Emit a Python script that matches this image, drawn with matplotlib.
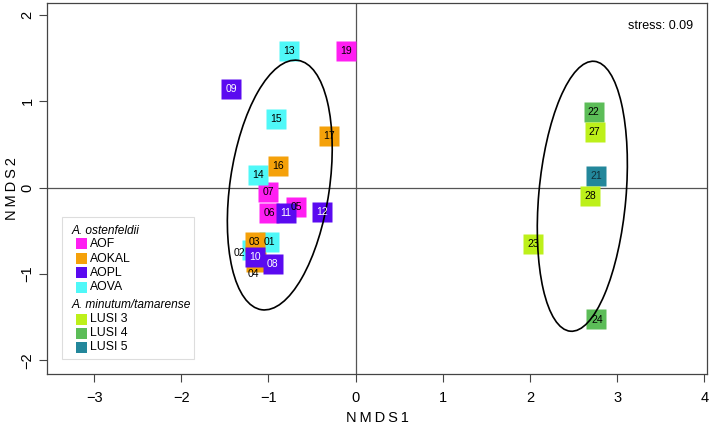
import matplotlib
matplotlib.use("Agg")
import matplotlib.pyplot as plt
from matplotlib.patches import Ellipse, Rectangle

plt.rcParams['font.family'] = ['Liberation Sans', 'DejaVu Sans']

# ---- data ----
sample_ids = ["01", "02", "03", "04", "05", "06", "07", "08", "09", "10", "11", "12",
              "13", "14", "15", "16", "17", "19", "21", "22", "23", "24", "27", "28"]
groups = ["AOVA", "AOVA", "AOKAL", "AOKAL", "AOF", "AOF", "AOF", "AOPL", "AOPL", "AOPL", "AOPL", "AOPL",
          "AOVA", "AOVA", "AOVA", "AOKAL", "AOKAL", "AOF", "LUSI 5", "LUSI 4", "LUSI 3", "LUSI 4", "LUSI 3", "LUSI 3"]
nmds1 = [-0.99, -1.19, -1.16, -1.14, -0.68, -0.99, -1.00, -0.95, -1.43, -1.15, -0.80, -0.39,
         -0.76, -1.12, -0.91, -0.89, -0.31, -0.11, 2.76, 2.73, 2.04, 2.76, 2.74, 2.69]
nmds2 = [-0.63, -0.72, -0.63, -0.86, -0.22, -0.29, -0.05, -0.89, 1.14, -0.80, -0.29, -0.28,
         1.58, 0.15, 0.80, 0.25, 0.60, 1.58, 0.13, 0.88, -0.65, -1.52, 0.64, -0.10]

group_names = ["AOF", "AOKAL", "AOPL", "AOVA", "LUSI 3", "LUSI 4", "LUSI 5"]
group_colors = ["#ff1ef2", "#f5a10a", "#5a0af0", "#4ff8f8", "#bdf01a", "#5cbd58", "#23879b"]
label_colors = ["black", "black", "white", "black", "black", "black", "#10303a"]

# ellipses: centre x, centre y, semi-major, semi-minor, angle (deg)
ell_cx = [-0.87, 2.60]
ell_cy = [0.03, -0.10]
ell_a = [1.46, 1.57]
ell_b = [0.57, 0.50]
ell_ang = [81.8, 85.0]

stress = 0.09
xticks = [-3, -2, -1, 0, 1, 2, 3, 4]
yticks = [-2, -1, 0, 1, 2]

# label offsets (points) for crowded labels
label_offsets = {"02": (-9, -2), "04": (-2, -9), "24": (1, -1)}

# ---- figure ----
W, H = 709, 426
fig = plt.figure(figsize=(W / 100, H / 100), dpi=100)
ax_l, ax_r, ax_t, ax_b = 47, 707, 3, 374
ax = fig.add_axes([ax_l / W, 1 - ax_b / H, (ax_r - ax_l) / W, (ax_b - ax_t) / H])
ax.set_xlim(-3.54, 4.03)
ax.set_ylim(-2.16, 2.14)

ax.axhline(0, color="#555555", lw=0.9, zorder=1)
ax.axvline(0, color="#555555", lw=0.9, zorder=1)

cmap = dict(zip(group_names, group_colors))
tmap = dict(zip(group_names, label_colors))
for i, (sid, g, x, y) in enumerate(zip(sample_ids, groups, nmds1, nmds2)):
    ax.plot(x, y, marker='s', ms=13.8, color=cmap[g], mec='none', ls='none', zorder=3 + i * 0.01)
for sid, g, x, y in zip(sample_ids, groups, nmds1, nmds2):
    off = label_offsets.get(sid, (0, 0))
    col = tmap[g]
    if sid in ("02", "04"):
        col = "black"
    ax.annotate(sid, (x, y), xytext=off, textcoords="offset points", ha="center", va="center",
                fontsize=7.5, color=col, zorder=5)

for cx, cy, a, b, ang in zip(ell_cx, ell_cy, ell_a, ell_b, ell_ang):
    ax.add_patch(Ellipse((cx, cy), 2 * a, 2 * b, angle=ang, fill=False, ec="black", lw=1.2, zorder=4))

ax.text(0.93, 0.937, f"stress: {stress}", transform=ax.transAxes, ha="center", va="center", fontsize=9)

ax.set_xticks(xticks)
ax.set_yticks(yticks)
ax.set_xticklabels([f"\u2212{abs(t)}" if t < 0 else str(t) for t in xticks], fontsize=10.5)
ax.set_yticklabels([f"\u2212{abs(t)}" if t < 0 else str(t) for t in yticks], fontsize=10.5,
                   rotation=90, va="center")
ax.tick_params(length=6, width=0.8, color="#444444")
ax.tick_params(axis="x", pad=6)
ax.tick_params(axis="y", pad=3)
for s in ax.spines.values():
    s.set_color("#444444")
    s.set_linewidth(0.9)
ax.set_xlabel("N\u2009M\u2009D\u2009S\u20091", fontsize=10.5)
ax.set_ylabel("N\u2009M\u2009D\u2009S\u20092", fontsize=10.5)
ax.xaxis.set_label_coords(0.5, (ax_b - 418) / (ax_b - ax_t))
ax.xaxis.label.set_va("center")
ax.yaxis.set_label_coords((12 - ax_l) / (ax_r - ax_l), 0.5)
ax.yaxis.label.set_va("center")

# ---- legend (manual, in figure pixel layout) ----
def fx(px):
    return px / W

def fy(py):
    return 1 - py / H

fig.patches.append(Rectangle((fx(62), fy(359)), fx(194) - fx(62), fy(217) - fy(359),
                             transform=fig.transFigure, fc="white", ec="#dddddd", lw=0.8, zorder=6))
fig.text(fx(72), fy(231), "A. ostenfeldii", style="italic", fontsize=8.6, va="center", zorder=7)
fig.text(fx(72), fy(305), "A. minutum/tamarense", style="italic", fontsize=8.6, va="center", zorder=7)
row_y = [244, 258.5, 272.5, 287, 319, 333, 347]
for name, col, ry in zip(group_names, group_colors, row_y):
    fig.patches.append(Rectangle((fx(76), fy(ry + 5.5)), fx(11), fy(0) - fy(11),
                                 transform=fig.transFigure, fc=col, ec="none", zorder=7))
    fig.text(fx(90), fy(ry), name, fontsize=8.8, va="center", zorder=7)

fig.savefig("out.png", dpi=100)
